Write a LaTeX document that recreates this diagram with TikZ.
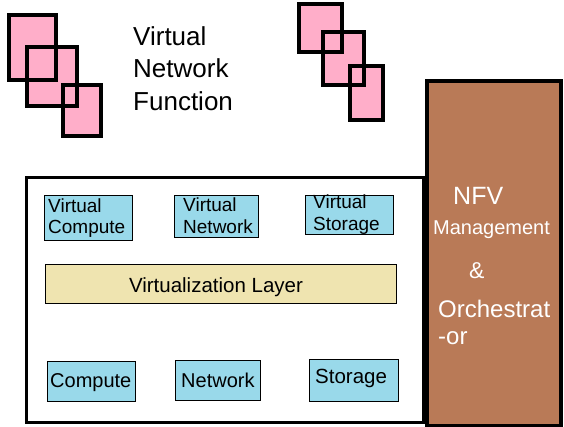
\documentclass[tikz,border=0pt]{standalone}
\usepackage{fontspec}
\setmainfont{Liberation Sans}
\definecolor{vnfpink}{RGB}{255,174,201}
\definecolor{resblue}{RGB}{153,217,234}
\definecolor{layertan}{RGB}{239,228,176}
\definecolor{manobrown}{RGB}{185,122,87}
\begin{document}
\begin{tikzpicture}[x=1pt,y=-1pt,
	resbox/.style={draw,line width=1pt,fill=resblue,anchor=north west,inner sep=0pt},
	lbl/.style={anchor=base west,inner sep=0pt,font=\fontsize{19}{22}\selectfont}]
			\useasboundingbox (0,0) rectangle (564,426);
			% VNFの四角の描画
			\fill[vnfpink] (9,15) rectangle (56,80) (27,47) rectangle (77,106) (63,85) rectangle (101,136);
			\fill[vnfpink] (299,4) rectangle (342,52) (323,32) rectangle (364,85) (350,66) rectangle (383,120);
			\draw[line width=4pt] (9,15) rectangle (56,80) (27,47) rectangle (77,106) (63,85) rectangle (101,136);
			\draw[line width=4pt] (299,4) rectangle (342,52) (323,32) rectangle (364,85) (350,66) rectangle (383,120);
			\node[lbl,font=\fontsize{26}{30}\selectfont] (vnf_t1) at (133,45) {Virtual};
			\node[lbl,font=\fontsize{26}{30}\selectfont] (vnf_t2) at (133,77.5) {Network};
			\node[lbl,font=\fontsize{26}{30}\selectfont] (vnf_t3) at (133,110) {Function};
			% NFVIの枠
			\node[draw,line width=3pt,anchor=north west,minimum width=397.5,minimum height=245.5,inner sep=0pt] (nfvi) at (24.5,175.5) {};
			% MANOの箱
			\node[draw,line width=4pt,fill=manobrown,anchor=north west,minimum width=134,minimum height=345,inner sep=0pt] (mano) at (425,79) {};
			\node[lbl,white,font=\fontsize{25}{30}\selectfont] (mano_nfv) at (453,204) {NFV};
			\node[lbl,white,font=\fontsize{20}{24}\selectfont] (mano_mgmt) at (433,234) {Management};
			\node[lbl,white,font=\fontsize{23}{26}\selectfont] (mano_and) at (469,278) {\&};
			\node[lbl,white,font=\fontsize{24}{28}\selectfont] (mano_orch) at (438,317) {Orchestrat};
			\node[lbl,white,font=\fontsize{24}{28}\selectfont] (mano_or) at (438,344) {-or};
			% 仮想リソース
			\node[resbox,minimum width=88.5,minimum height=45.5] (vcompute) at (43.5,194.5) {};
			\node[resbox,minimum width=84.5,minimum height=42.5] (vnetwork) at (173.5,194.5) {};
			\node[resbox,minimum width=88.5,minimum height=39.5] (vstorage) at (304.5,194.5) {};
			\node[lbl] (vcompute_t1) at (48,212) {Virtual};
			\node[lbl] (vcompute_t2) at (48,233) {Compute};
			\node[lbl] (vnetwork_t1) at (183,211) {Virtual};
			\node[lbl] (vnetwork_t2) at (183,233) {Network};
			\node[lbl] (vstorage_t1) at (313,208) {Virtual};
			\node[lbl] (vstorage_t2) at (313,230) {Storage};
			% 仮想化レイヤ
			\node[draw,line width=1pt,fill=layertan,anchor=north west,minimum width=351.5,minimum height=39.5,inner sep=0pt] (vlayer) at (44.5,263.5) {};
			\node[anchor=base,inner sep=0pt,font=\fontsize{20.5}{24}\selectfont] (vlayer_t) at (216,292) {Virtualization Layer};
			% 物理リソース
			\node[resbox,minimum width=88.5,minimum height=40.5] (compute) at (46.5,360.5) {};
			\node[resbox,minimum width=85.5,minimum height=40.5] (network) at (174.5,359.5) {};
			\node[resbox,minimum width=89.5,minimum height=42.5] (storage) at (308.5,358.5) {};
			\node[lbl,font=\fontsize{20}{24}\selectfont] (compute_t) at (50,387) {Compute};
			\node[lbl,font=\fontsize{20}{24}\selectfont] (network_t) at (181,387) {Network};
			\node[lbl,font=\fontsize{20.5}{24}\selectfont] (storage_t) at (315,383) {Storage};
		\end{tikzpicture}
\end{document}
